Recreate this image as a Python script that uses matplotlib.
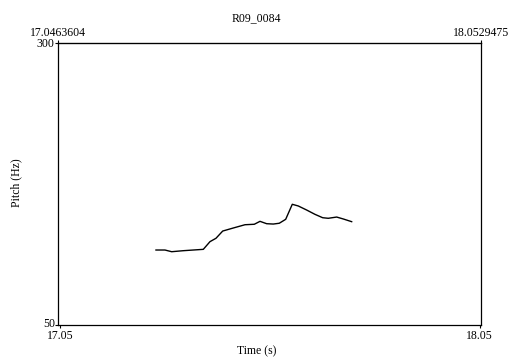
import matplotlib
matplotlib.use('Agg')
import matplotlib.pyplot as plt
import matplotlib.transforms as mtransforms

plt.rcParams['font.family'] = ['Liberation Serif', 'DejaVu Serif']

title = 'R09_0084'
t_start = 17.0463604
t_end = 18.0529475
f_min = 50
f_max = 300

# pitch contour
times = [17.2790, 17.3004, 17.3164, 17.3440, 17.3917, 17.4076, 17.4219,
         17.4379, 17.4631, 17.4910, 17.5131, 17.5267, 17.5426, 17.5583,
         17.5726, 17.5879, 17.6036, 17.6179, 17.6379, 17.6576, 17.6760,
         17.6893, 17.7093, 17.7250, 17.7450]
pitch = [116.4, 116.4, 114.9, 115.8, 117.0, 123.8, 126.8, 133.2, 135.9,
         138.8, 139.2, 141.8, 139.7, 139.4, 140.1, 143.6, 156.9, 155.4,
         151.8, 148.0, 145.0, 144.5, 145.6, 143.9, 141.5]

fig = plt.figure(figsize=(5.13, 3.58), dpi=100)
ax = fig.add_axes([0.1136, 0.0922, 0.824, 0.7885])

ax.plot(times, pitch, color='black', lw=1.0)

ax.set_xlim(t_start, t_end)
ax.set_ylim(f_min, f_max)
for s in ax.spines.values():
    s.set_linewidth(0.9)

ax.set_xticks([17.05, 18.05])
ax.set_xticklabels(['17.05', '18.05'])
ax.set_yticks([f_min, f_max])
ax.set_yticklabels([str(f_min), str(f_max)])
ax.tick_params(direction='out', length=2.5, width=0.8, labelsize=8.5, pad=0)
ax.tick_params(axis='x', pad=0.8)

# nudge the lowest y label up a little so it clears the x label below
lab = ax.get_yticklabels()[0]
lab.set_transform(lab.get_transform() +
                  mtransforms.ScaledTranslation(0, 2 / 72, fig.dpi_scale_trans))

top = ax.secondary_xaxis('top')
top.set_xticks([t_start, t_end])
top.set_xticklabels(['%.7f' % t_start, '%.7f' % t_end])
top.tick_params(direction='out', length=2.5, width=0.8, labelsize=8.5, pad=0.5)

fig.text(0.5, 0.95, title, ha='center', va='center', fontsize=8.5)
fig.text(0.5, 0.02, 'Time (s)', ha='center', va='center', fontsize=8.5)
fig.text(0.031, 0.49, 'Pitch (Hz)', ha='center', va='center',
         rotation=90, fontsize=8.5)

fig.savefig('out.png', dpi=100)
